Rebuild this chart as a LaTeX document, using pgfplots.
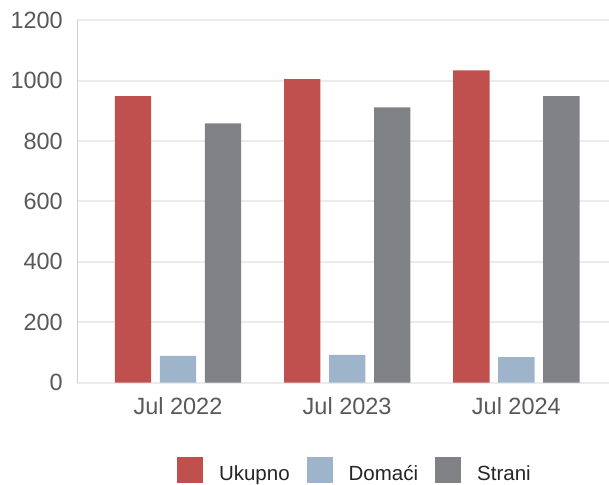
\documentclass[border=0pt]{standalone}
\usepackage{pgfplots}
\pgfplotsset{compat=1.18}
\usepackage{fontspec}
\setmainfont{Liberation Sans}
\definecolor{cRed}{HTML}{C0504D}
\definecolor{cBlue}{HTML}{9EB4CB}
\definecolor{cGray}{HTML}{808285}
\definecolor{cTick}{HTML}{595959}
\definecolor{cGrid}{HTML}{EBEBEB}
\definecolor{cAxis}{HTML}{D0D0D0}
\begin{document}
\begin{tikzpicture}
\useasboundingbox (0,0) rectangle (609pt,484pt);
\begin{axis}[
  at={(77pt,101.3pt)}, anchor=south west,
  scale only axis, width=532pt, height=362.4pt,
  xmin=-0.5966, xmax=2.5475, ymin=0, ymax=1200,
  ytick={0,200,...,1200},
  xtick={0,1,2}, xticklabels={Jul 2022,Jul 2023,Jul 2024},
  axis y line=left, axis x line=bottom,
  y axis line style={draw=cAxis, line width=1pt, -},
  x axis line style={draw=cGrid, line width=2pt, -},
  ymajorgrids, grid style={draw=cGrid, line width=2pt},
  major tick length=0pt,
  ticklabel style={font=\fontsize{23.5}{28}\selectfont, text=cTick, inner sep=0pt},
  yticklabel style={xshift=-14pt},
  xticklabel style={yshift=-14.6pt},
  /pgf/number format/assume math mode=true,
  scaled y ticks=false,
  yticklabel={\pgfmathprintnumber[fixed, set thousands separator={}]{\tick}},
  ybar, bar width=36.3pt,
  legend columns=3,
  legend style={at={(0.188,-0.2051)}, anchor=north west, draw=none, inner sep=0pt, outer sep=0pt,
    font=\fontsize{20.5}{24}\selectfont, text=black!85,
    nodes={inner sep=0pt, outer sep=0pt},
    /tikz/every odd column/.style={column sep=16pt},
    /tikz/every even column/.style={column sep=17pt}},
  legend image code/.code={\fill[#1] (0pt,-9pt) rectangle (26pt,17pt);},
  clip=false,
]
\addplot[fill=cRed, draw=none, bar shift=-45pt] coordinates {(0,949) (1,1005) (2,1034)};
\addplot[fill=cBlue, draw=none, bar shift=0pt] coordinates {(0,89) (1,92) (2,85)};
\addplot[fill=cGray, draw=none, bar shift=45pt] coordinates {(0,859) (1,912) (2,949)};
\legend{Ukupno,Domaći,Strani}
\end{axis}
\end{tikzpicture}
\end{document}
